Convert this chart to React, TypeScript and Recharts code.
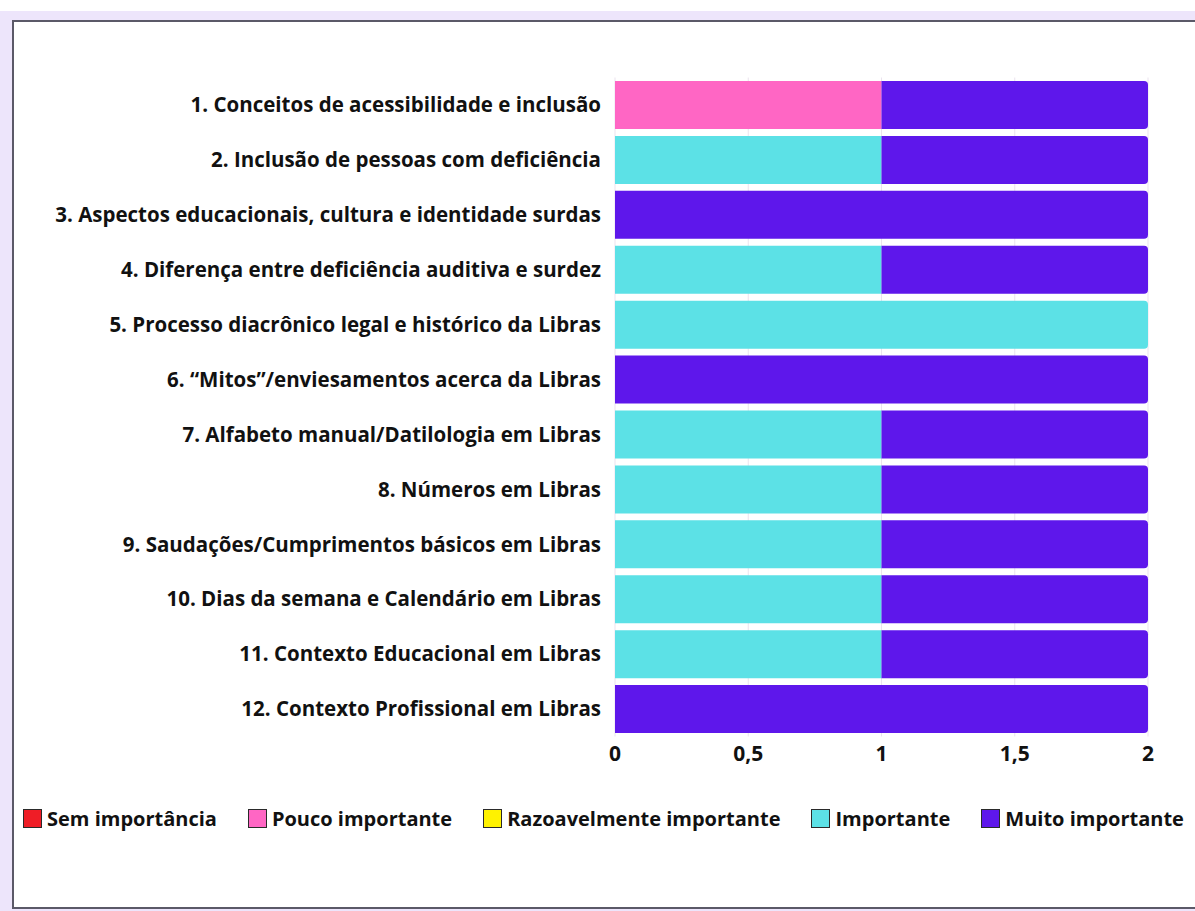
import React from 'react';
import { BarChart, Bar, XAxis, YAxis, CartesianGrid } from 'recharts';

// temas avaliados pelos participantes
const topics = [
  '1. Conceitos de acessibilidade e inclusão',
  '2. Inclusão de pessoas com deficiência',
  '3. Aspectos educacionais, cultura e identidade surdas',
  '4. Diferença entre deficiência auditiva e surdez',
  '5. Processo diacrônico legal e histórico da Libras',
  '6. “Mitos”/enviesamentos acerca da Libras',
  '7. Alfabeto manual/Datilologia em Libras',
  '8. Números em Libras',
  '9. Saudações/Cumprimentos básicos em Libras',
  '10. Dias da semana e Calendário em Libras',
  '11. Contexto Educacional em Libras ',
  '12. Contexto Profissional em Libras',
];

// número de respostas por nível de importância (mesma ordem dos temas)
const semImportancia = [0, 0, 0, 0, 0, 0, 0, 0, 0, 0, 0, 0];
const poucoImportante = [1, 0, 0, 0, 0, 0, 0, 0, 0, 0, 0, 0];
const razoavelmente = [0, 0, 0, 0, 0, 0, 0, 0, 0, 0, 0, 0];
const importante = [0, 1, 0, 1, 2, 0, 1, 1, 1, 1, 1, 0];
const muitoImportante = [1, 1, 2, 1, 0, 2, 1, 1, 1, 1, 1, 2];

const xTicks = [0, 0.5, 1, 1.5, 2];

const series = [
  { key: 'sem', name: 'Sem importância', color: '#ef1d26', values: semImportancia },
  { key: 'pouco', name: 'Pouco importante', color: '#ff66c4', values: poucoImportante },
  { key: 'razo', name: 'Razoavelmente importante', color: '#fff200', values: razoavelmente },
  { key: 'imp', name: 'Importante', color: '#5ce1e6', values: importante },
  { key: 'muito', name: 'Muito importante', color: '#5e17eb', values: muitoImportante },
];

const data = topics.map((name, i) => {
  const row: any = { name };
  series.forEach((s) => {
    row[s.key] = s.values[i];
  });
  return row;
});

const FONT = '"Open Sans", sans-serif';

// arredonda só a ponta direita do último segmento de cada barra
const Segment = (props: any) => {
  const { x, y, width, height, fill, payload, idx } = props;
  if (!width || width <= 0) return null;
  const isLast = series.slice(idx + 1).every((s) => !payload[s.key]);
  const r = isLast ? 4 : 0;
  const d = `M${x},${y} H${x + width - r} Q${x + width},${y} ${x + width},${y + r} V${y + height - r} Q${x + width},${y + height} ${x + width - r},${y + height} H${x} Z`;
  return <path d={d} fill={fill} />;
};

const ChartLegend = () => (
  <div
    style={{
      position: 'absolute',
      left: 23,
      top: 805,
      display: 'flex',
      alignItems: 'center',
      fontFamily: FONT,
      fontWeight: 700,
      fontSize: 20,
      color: '#111',
      whiteSpace: 'nowrap',
    }}
  >
    {series.map((s) => (
      <div key={s.key} style={{ display: 'flex', alignItems: 'center', marginRight: 31 }}>
        <span
          style={{
            display: 'inline-block',
            width: 17,
            height: 17,
            background: s.color,
            border: '1.5px solid #2a2a2a',
            marginRight: 5,
          }}
        />
        <span>{s.name}</span>
      </div>
    ))}
  </div>
);

export default function App() {
  return (
    <div style={{ position: 'fixed', left: 0, top: 0, width: 1195, height: 911, background: '#fff', overflow: 'hidden' }}>
      <div style={{ position: 'absolute', left: 0, top: 11, width: 1195, height: 900, background: '#ede5fb' }} />
      <div
        style={{
          position: 'absolute',
          left: 12,
          top: 20,
          width: 1200,
          height: 885,
          background: '#fff',
          border: '2.5px solid #5b5968',
        }}
      />
      <div style={{ position: 'absolute', left: 0, top: 0 }}>
        <BarChart
          width={1195}
          height={911}
          data={data}
          layout="vertical"
          barCategoryGap={3.5}
          margin={{ top: 77.5, right: 47, bottom: 144.5, left: 14 }}
        >
          <CartesianGrid horizontal={false} stroke="#ebe3ee" />
          <XAxis
            type="number"
            domain={[0, 2]}
            ticks={xTicks}
            height={30}
            axisLine={false}
            tickLine={false}
            tickSize={0}
            tickMargin={10}
            tickFormatter={(v: number) => String(v).replace('.', ',')}
            tick={{ fill: '#111', fontSize: 21, fontWeight: 700, fontFamily: FONT }}
          />
          <YAxis
            type="category"
            dataKey="name"
            width={601}
            axisLine={false}
            tickLine={false}
            tickSize={0}
            tickMargin={14}
            interval={0}
            tick={{ fill: '#111', fontSize: 20.5, fontWeight: 700, fontFamily: FONT }}
          />
          {series.map((s, i) => (
            <Bar
              key={s.key}
              dataKey={s.key}
              name={s.name}
              stackId="a"
              fill={s.color}
              isAnimationActive={false}
              shape={(p: any) => <Segment {...p} idx={i} />}
            />
          ))}
        </BarChart>
      </div>
      <ChartLegend />
    </div>
  );
}
